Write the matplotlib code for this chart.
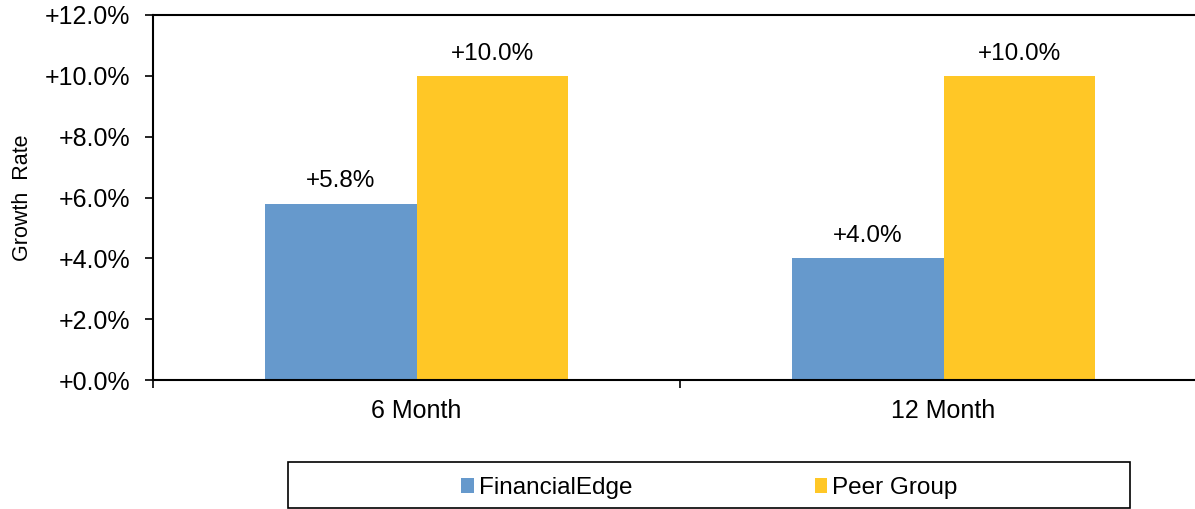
import numpy as np
import matplotlib.pyplot as plt
from matplotlib.patches import Rectangle

plt.rcParams['font.family'] = ['Liberation Sans', 'DejaVu Sans']

periods = ['6 Month', '12 Month']
financial_edge = [5.8, 4.0]
peer_group = [10.0, 10.0]
y_ticks = [0, 2, 4, 6, 8, 10, 12]

blue = '#6699CC'
gold = '#FFC726'
fs = 18

fig = plt.figure(figsize=(11.95, 5.09), dpi=100)
# plot area runs a little past the right edge of the figure
ax = fig.add_axes([153 / 1195, 1 - 380 / 509, (1207 - 153) / 1195, 365 / 509])

x = np.arange(len(periods))
w = 0.287
b1 = ax.bar(x - w / 2, financial_edge, w, color=blue, label='FinancialEdge')
b2 = ax.bar(x + w / 2, peer_group, w, color=gold, label='Peer Group')

for bars, vals in [(b1, financial_edge), (b2, peer_group)]:
    for rect, v in zip(bars, vals):
        ax.annotate('+%.1f%%' % v, (rect.get_x() + rect.get_width() / 2, v),
                    xytext=(0, 8), textcoords='offset points',
                    ha='center', va='bottom', fontsize=17.5)

ax.set_xlim(-0.5, len(periods) - 0.5)
ax.set_ylim(0, 12)
ax.set_yticks(y_ticks)
ax.set_yticklabels(['+%.1f%%' % t for t in y_ticks], fontsize=fs)
ax.tick_params(axis='y', length=6, width=1.2, direction='out', pad=10.5)

# category labels centred, tick marks on the boundaries
ax.set_xticks(x)
ax.set_xticklabels(periods, fontsize=fs)
ax.tick_params(axis='x', which='major', length=0, pad=14)
ax.set_xticks(np.arange(len(periods) + 1) - 0.5, minor=True)
ax.tick_params(axis='x', which='minor', length=6, width=1.2, direction='out')

ax.spines['right'].set_visible(False)
for s in ['left', 'top', 'bottom']:
    ax.spines[s].set_linewidth(1.5)

ax.set_ylabel('Growth  Rate', fontsize=15.5, labelpad=8)

# legend box below the chart
fig.patches.append(Rectangle((288 / 1195, 1 / 509), 842 / 1195, 46 / 509,
                             transform=fig.transFigure, fill=False,
                             edgecolor='black', linewidth=1.2))
leg = fig.legend(loc='center left', bbox_to_anchor=(461 / 1195, 1 - 488 / 509),
                 ncol=2, frameon=False, fontsize=17.5,
                 handlelength=0.53, handleheight=0.53, handletextpad=0.2,
                 columnspacing=7.5, borderpad=0, borderaxespad=0)

fig.savefig('out.png', dpi=100)
